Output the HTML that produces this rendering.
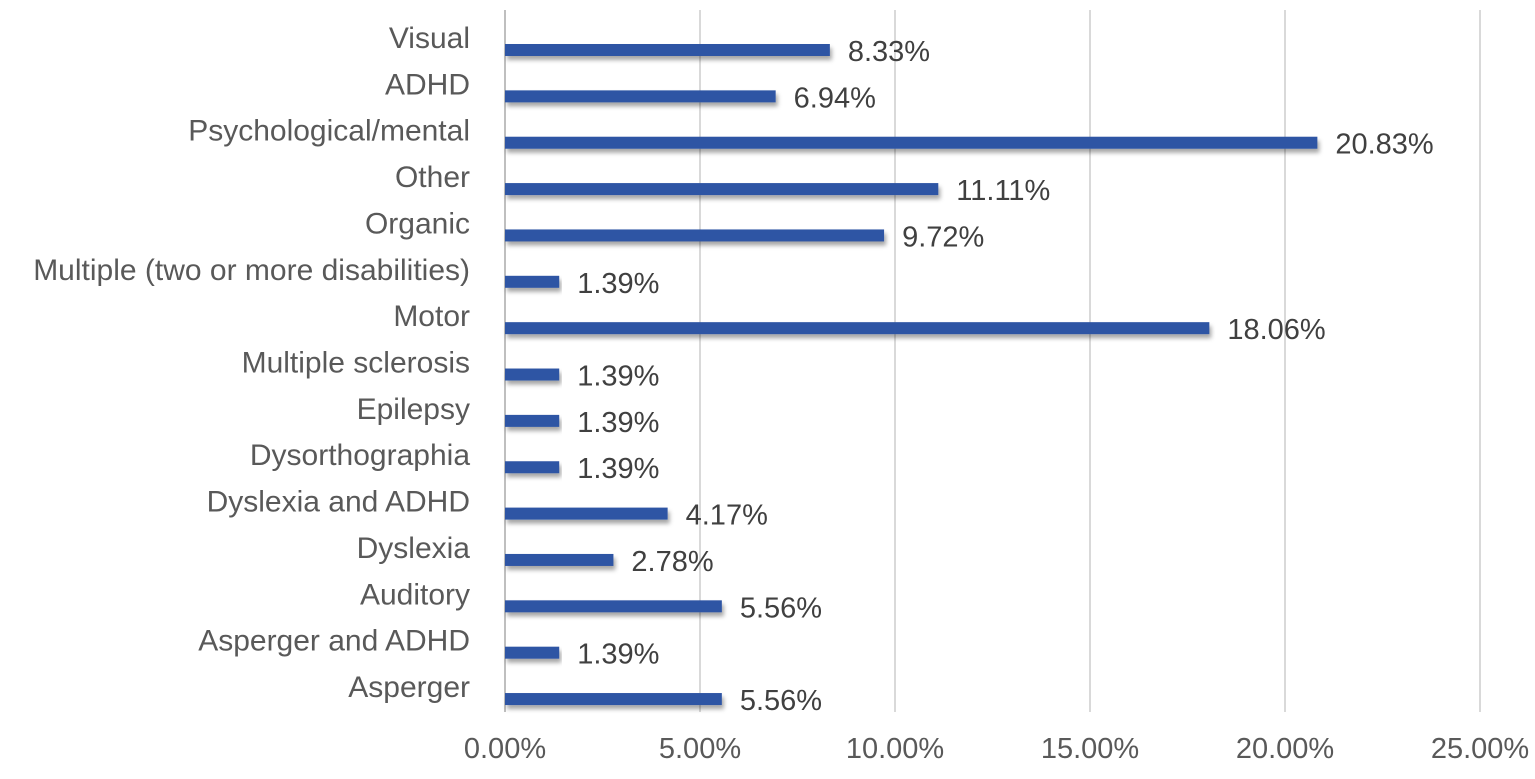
<!DOCTYPE html>
<html><head><meta charset="utf-8"><style>
body{margin:0;background:#fff;width:1535px;height:774px;overflow:hidden}
svg text{font-family:"Liberation Sans",sans-serif}
</style></head><body>
<svg id="chart" width="1535" height="774">
<defs><filter id="sh" x="-5%" y="-50%" width="110%" height="250%"><feDropShadow dx="2" dy="4" stdDeviation="2" flood-color="#000" flood-opacity="0.35"/></filter></defs>
<g id="grid"></g><g id="bars"></g><g id="labels"></g>
</svg>
<script>
const categories=["Visual","ADHD","Psychological/mental","Other","Organic","Multiple (two or more disabilities)","Motor","Multiple sclerosis","Epilepsy","Dysorthographia","Dyslexia and ADHD","Dyslexia","Auditory","Asperger and ADHD","Asperger"];
const values=[8.33,6.94,20.83,11.11,9.72,1.39,18.06,1.39,1.39,1.39,4.17,2.78,5.56,1.39,5.56];
const ticks=[0,5,10,15,20,25];
const tickLabels=["0.00%","5.00%","10.00%","15.00%","20.00%","25.00%"];
const NS="http://www.w3.org/2000/svg";
const x0=505,x1=1480,xmax=25;
const xs=v=>x0+(x1-x0)*v/xmax;
const yTop=50,yStep=46.36;
const ys=i=>yTop+i*yStep;
function mk(t,a,p){const e=document.createElementNS(NS,t);for(const k in a)e.setAttribute(k,a[k]);p.appendChild(e);return e;}
const grid=document.getElementById('grid'),bars=document.getElementById('bars'),labels=document.getElementById('labels');
ticks.forEach((t,i)=>{
 const l=mk('line',{x1:xs(t),x2:xs(t),y1:10,y2:712,stroke:i==0?'#bfbfbf':'#d9d9d9','stroke-width':2},grid);
 
 
 const tx=mk('text',{x:xs(t),y:758,'text-anchor':'middle','font-size':29,fill:'#595959'},labels);
 tx.textContent=tickLabels[i];
 
 
});
categories.forEach((c,i)=>{
 const y=ys(i);
 const r=mk('rect',{x:x0,y:y-6,width:xs(values[i])-x0,height:12,fill:'#2f55a4',filter:'url(#sh)'},bars);
 
 
 const t=mk('text',{x:470,y:y-2,'text-anchor':'end','font-size':30,fill:'#595959'},labels);
 t.textContent=c;
 
 
 const v=mk('text',{x:xs(values[i])+18,y:y+11,'font-size':29,fill:'#404040'},labels);
 v.textContent=values[i].toFixed(2)+'%';
 
 
});
</script>
</body></html>
